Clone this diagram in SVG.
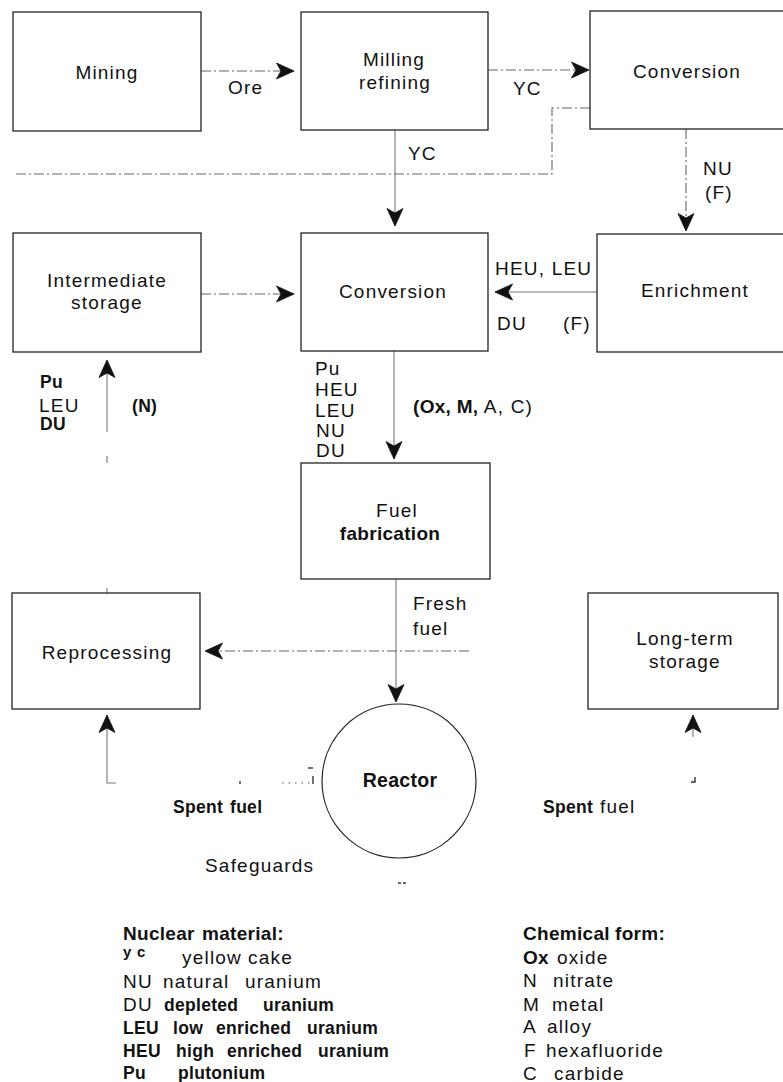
<svg xmlns="http://www.w3.org/2000/svg" width="783" height="1082" viewBox="0 0 783 1082">
<style>
.t{font-family:"Liberation Sans",Arial,sans-serif;font-size:19px;letter-spacing:1.2px;fill:#111}
.m{text-anchor:middle}
.b{font-weight:bold;letter-spacing:0.3px}
.s{font-size:17.5px}
.box{fill:none;stroke:#222;stroke-width:1.3}
.circ{fill:none;stroke:#222;stroke-width:1.2}
.dash{fill:none;stroke:#666;stroke-width:1.1;stroke-dasharray:10 3 2 3}
.sol{fill:none;stroke:#777;stroke-width:1.1}
.dot{fill:none;stroke:#555;stroke-width:1.2;stroke-dasharray:1.5 5}
.mk{fill:none;stroke:#333;stroke-width:1.4}
</style>
<defs>
<marker id="ah" markerUnits="userSpaceOnUse" viewBox="-19 -10 21 20" refX="0" refY="0" markerWidth="21" markerHeight="20" orient="auto">
<path d="M0,0 L-17.5,-8 L-13,0 L-17.5,8 Z" fill="#111" stroke="#111" stroke-width="0.8" stroke-linejoin="miter"/>
</marker>
</defs>
<rect width="783" height="1082" fill="#fff"/>

<g id="connectors">
<path class="dash" d="M201,71 H294" marker-end="url(#ah)"/>
<path class="dash" d="M488,70 H589" marker-end="url(#ah)"/>
<path class="sol" d="M395,130 V226" marker-end="url(#ah)"/>
<path class="dash" d="M590,108 H552 V174 H15"/>
<path class="dash" d="M686,129 V231" marker-end="url(#ah)"/>
<path class="sol" d="M597,292 H495" marker-end="url(#ah)"/>
<path class="dash" d="M201,294 H294" marker-end="url(#ah)"/>
<path class="sol" d="M394,351 V459" marker-end="url(#ah)"/>
<path class="sol" d="M396,579 V702" marker-end="url(#ah)"/>
<path class="dash" d="M469,651 H205" marker-end="url(#ah)"/>
<path class="sol" d="M107,432 V360" marker-end="url(#ah)"/>
<path class="sol" d="M107,456 V463"/>
<path class="sol" d="M107,588 V593"/>
<path class="sol" d="M116,783 H107 V715" marker-end="url(#ah)"/>
<path class="dot" d="M282,783 H314"/>
<path class="mk" d="M313,776 V784"/>
<path class="mk" d="M240,781 V784"/>
<path class="mk" d="M308,768 H313" stroke-width="2.2"/>
<path class="sol" d="M693,737 V715" marker-end="url(#ah)"/>
<path class="mk" d="M695,777 V782 H691"/>
<path class="mk" d="M398,883 H406" stroke-width="2.5" stroke-dasharray="3 2"/>
</g>

<g id="mining"><rect class="box" x="13" y="12" width="188" height="119"/><text class="t m" x="107" y="79">Mining</text></g>
<g id="milling"><rect class="box" x="301" y="12" width="187" height="118"/><text class="t m" x="394" y="66">Milling</text><text class="t m" x="395" y="89">refining</text></g>
<g id="conversion1"><rect class="box" x="590" y="11" width="220" height="118"/><text class="t m" x="687" y="78">Conversion</text></g>
<g id="intermediate"><rect class="box" x="13" y="233" width="188" height="119"/><text class="t m" x="107" y="287">Intermediate</text><text class="t m" x="107" y="309">storage</text></g>
<g id="conversion2"><rect class="box" x="301" y="233" width="187" height="118"/><text class="t m" x="393" y="298">Conversion</text></g>
<g id="enrichment"><rect class="box" x="597" y="234" width="220" height="118"/><text class="t m" x="695" y="297">Enrichment</text></g>
<g id="fabrication"><rect class="box" x="301" y="463" width="189" height="116"/><text class="t m" x="397" y="517">Fuel</text><text class="t m b" x="390" y="540">fabrication</text></g>
<g id="reprocessing"><rect class="box" x="12" y="593" width="188" height="116"/><text class="t m" x="107" y="659">Reprocessing</text></g>
<g id="longterm"><rect class="box" x="588" y="593" width="190" height="116"/><text class="t m" x="685" y="645">Long-term</text><text class="t m" x="685" y="668">storage</text></g>
<g id="reactor"><circle class="circ" cx="399" cy="781" r="77"/><text class="t m b" x="400" y="787" style="font-size:19.5px">Reactor</text></g>

<g id="labels">
<text class="t" x="228" y="94">Ore</text>
<text class="t" x="513" y="95">YC</text>
<text class="t" x="408" y="160">YC</text>
<text class="t" x="703" y="175">NU</text>
<text class="t" x="705" y="199">(F)</text>
<text class="t" x="495" y="275">HEU, LEU</text>
<text class="t" x="497" y="330">DU</text>
<text class="t" x="563" y="330">(F)</text>
<text class="t" x="315" y="375">Pu</text>
<text class="t" x="315" y="396">HEU</text>
<text class="t" x="315" y="417">LEU</text>
<text class="t" x="316" y="437">NU</text>
<text class="t" x="316" y="457">DU</text>
<text class="t" x="413" y="413"><tspan class="b">(Ox, M,</tspan> A, C)</text>
<text class="t b s" x="40" y="388">Pu</text>
<text class="t" x="39" y="412">LEU</text>
<text class="t b s" x="40" y="430">DU</text>
<text class="t b s" x="132" y="412">(N)</text>
<text class="t" x="413" y="610">Fresh</text>
<text class="t" x="413" y="635">fuel</text>
<text class="t b s" x="173" y="813">Spent</text>
<text class="t b s" x="230" y="813">fuel</text>
<text class="t b s" x="543" y="813">Spent</text>
<text class="t" x="600" y="813">fuel</text>
<text class="t" x="205" y="872">Safeguards</text>
</g>

<g id="legend-material">
<text class="t b" x="123" y="940">Nuclear</text><text class="t b" x="202" y="940">material:</text>
<text class="t b" x="123" y="957" style="font-size:15px">y</text><text class="t b" x="137" y="957" style="font-size:15px">c</text>
<text class="t" x="182" y="964">yellow</text><text class="t" x="248" y="964">cake</text>
<text class="t" x="123" y="988">NU</text><text class="t" x="163" y="988">natural</text><text class="t" x="245" y="988">uranium</text>
<text class="t" x="123" y="1011">DU</text><text class="t b s" x="164" y="1011">depleted</text><text class="t b s" x="263" y="1011">uranium</text>
<text class="t b s" x="123" y="1034">LEU</text><text class="t b s" x="173" y="1034">low</text><text class="t b s" x="216" y="1034">enriched</text><text class="t b s" x="307" y="1034">uranium</text>
<text class="t b s" x="123" y="1057">HEU</text><text class="t b s" x="176" y="1057">high</text><text class="t b s" x="227" y="1057">enriched</text><text class="t b s" x="318" y="1057">uranium</text>
<text class="t b s" x="123" y="1079">Pu</text><text class="t b s" x="178" y="1079">plutonium</text>
</g>

<g id="legend-form">
<text class="t b" x="523" y="940">Chemical</text><text class="t b" x="615" y="940">form:</text>
<text class="t b" x="523" y="964">Ox</text><text class="t" x="557" y="964">oxide</text>
<text class="t" x="523" y="987">N</text><text class="t" x="553" y="987">nitrate</text>
<text class="t" x="523" y="1011">M</text><text class="t" x="552" y="1011">metal</text>
<text class="t" x="523" y="1033">A</text><text class="t" x="547" y="1033">alloy</text>
<text class="t" x="524" y="1057">F</text><text class="t" x="546" y="1057">hexafluoride</text>
<text class="t" x="523" y="1080">C</text><text class="t" x="554" y="1080">carbide</text>
</g>
</svg>
